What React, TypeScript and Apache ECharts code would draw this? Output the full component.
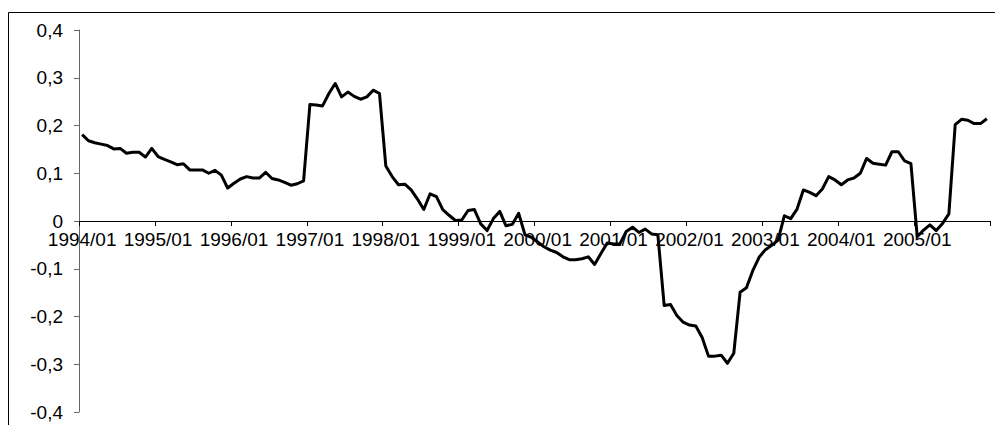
import React, { useEffect, useRef } from "react";
import * as echarts from "echarts";

const years = ["1994", "1995", "1996", "1997", "1998", "1999", "2000", "2001", "2002", "2003", "2004", "2005"];
const months = ["01", "02", "03", "04", "05", "06", "07", "08", "09", "10", "11", "12"];
const categories: string[] = years.flatMap((y) => months.map((m) => `${y}/${m}`));

const v1994 = [0.181, 0.168, 0.164, 0.161, 0.158, 0.151, 0.152, 0.142, 0.144, 0.144, 0.134, 0.152];
const v1995 = [0.135, 0.129, 0.124, 0.118, 0.12, 0.107, 0.107, 0.107, 0.1, 0.106, 0.096, 0.069];
const v1996 = [0.079, 0.088, 0.093, 0.09, 0.09, 0.102, 0.089, 0.086, 0.081, 0.075, 0.078, 0.084];
const v1997 = [0.244, 0.243, 0.241, 0.267, 0.288, 0.26, 0.27, 0.261, 0.255, 0.26, 0.274, 0.267];
const v1998 = [0.115, 0.093, 0.076, 0.077, 0.065, 0.046, 0.024, 0.057, 0.051, 0.024, 0.012, 0.001];
const v1999 = [0.002, 0.022, 0.024, -0.006, -0.02, 0.005, 0.02, -0.01, -0.007, 0.016, -0.029, -0.034];
const v2000 = [-0.044, -0.054, -0.061, -0.066, -0.075, -0.081, -0.081, -0.079, -0.075, -0.091, -0.068, -0.046];
const v2001 = [-0.048, -0.048, -0.022, -0.013, -0.024, -0.017, -0.027, -0.029, -0.177, -0.175, -0.198, -0.212];
const v2002 = [-0.218, -0.22, -0.244, -0.283, -0.283, -0.281, -0.298, -0.277, -0.149, -0.14, -0.104, -0.076];
const v2003 = [-0.06, -0.051, -0.04, 0.011, 0.005, 0.025, 0.065, 0.06, 0.053, 0.067, 0.093, 0.086];
const v2004 = [0.076, 0.086, 0.09, 0.1, 0.131, 0.121, 0.119, 0.117, 0.145, 0.145, 0.126, 0.12];
const v2005 = [-0.033, -0.019, -0.008, -0.02, -0.005, 0.015, 0.202, 0.213, 0.211, 0.204, 0.204, 0.214];

const values = [
  ...v1994, ...v1995, ...v1996, ...v1997, ...v1998, ...v1999,
  ...v2000, ...v2001, ...v2002, ...v2003, ...v2004, ...v2005,
];

const FONT = "'Liberation Sans', Arial, sans-serif";

const GRID_TOP = 30;
const GRID_BOTTOM = 13;
const HEIGHT = 425;
// x-axis crosses at value 0, which is the middle of the symmetric y range
const ZERO_OFFSET = -((HEIGHT - GRID_BOTTOM - GRID_TOP) / 2);

export default function App() {
  const ref = useRef<HTMLDivElement>(null);
  useEffect(() => {
    if (!ref.current) return;
    const chart = echarts.init(ref.current, null, { renderer: "svg" });
    chart.setOption({
      animation: false,
      backgroundColor: "#ffffff",
      grid: { left: 79, right: 5, top: GRID_TOP, bottom: GRID_BOTTOM, containLabel: false, outerBoundsMode: "none" },
      graphic: [
        {
          type: "rect",
          shape: { x: 8.5, y: 12.5, width: 1100, height: 600 },
          style: { fill: "none", stroke: "#000", lineWidth: 1 },
          silent: true,
          z: 0,
        },
      ],
      xAxis: {
        type: "category",
        data: categories,
        boundaryGap: true,
        position: "bottom",
        offset: ZERO_OFFSET,
        axisLine: { onZero: false, lineStyle: { color: "#000", width: 1 } },
        axisTick: { show: true, interval: 11, length: 5, inside: false, lineStyle: { color: "#000" } },
        axisLabel: {
          interval: 11,
          margin: 9,
          color: "#000",
          fontSize: 19,
          fontFamily: FONT,
          hideOverlap: false,
        },
        splitLine: { show: false },
      },
      yAxis: {
        type: "value",
        min: -0.4,
        max: 0.4,
        interval: 0.1,
        axisLine: { show: true, lineStyle: { color: "#666", width: 1 } },
        axisTick: { show: true, length: 5, lineStyle: { color: "#666" } },
        splitLine: { show: false },
        axisLabel: {
          margin: 16,
          color: "#000",
          fontSize: 19,
          fontFamily: FONT,
          formatter: (v: number) => {
            const r = Math.round(v * 10) / 10;
            if (r === 0) return "0";
            return r.toFixed(1).replace(".", ",");
          },
        },
      },
      series: [
        {
          type: "line",
          data: values,
          showSymbol: false,
          symbol: "none",
          lineStyle: { color: "#000", width: 3, join: "round" },
          z: 3,
        },
      ],
    });
    return () => chart.dispose();
  }, []);
  return (
    <div
      ref={ref}
      style={{ position: "fixed", left: 0, top: 0, width: 995, height: 425, background: "#fff" }}
    />
  );
}
